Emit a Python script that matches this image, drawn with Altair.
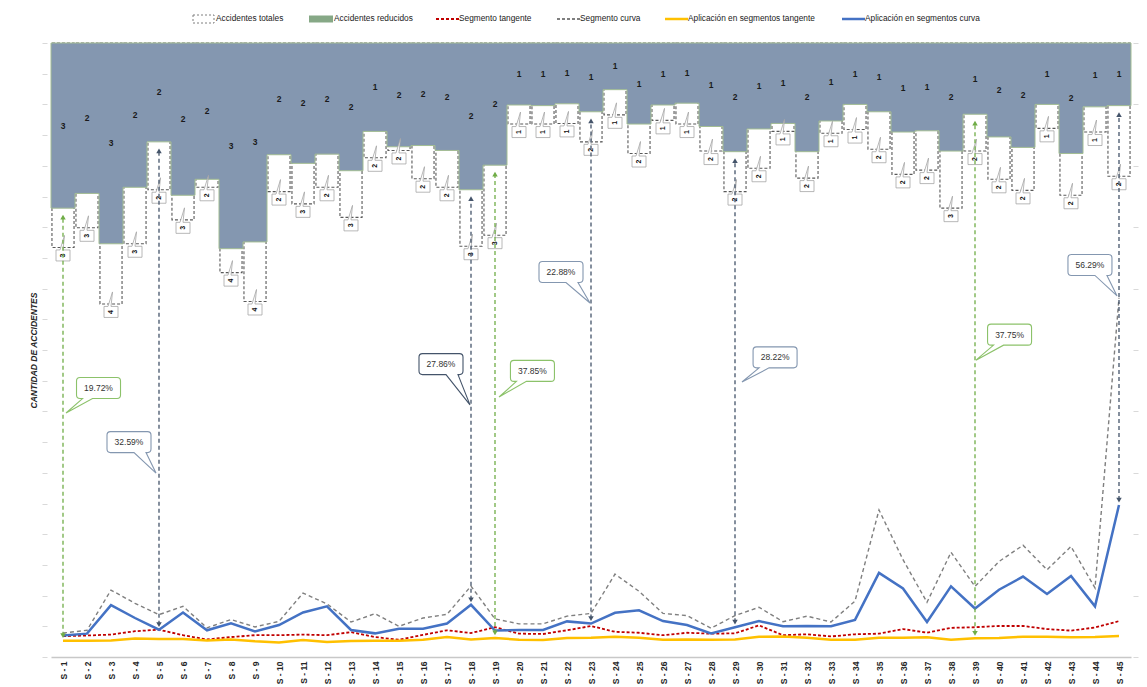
import altair as alt
import pandas as pd

# ------------------------------------------------------------------ data
segmentos = list(range(1, 46))

# accidentes (bars hanging from the top, secondary reversed axis)
reducidos = [2.69, 2.45, 3.27, 2.35, 1.61, 2.48, 2.22, 3.35, 3.24, 1.82,
             1.96, 1.81, 2.08, 1.44, 1.69, 1.67, 1.75, 2.39, 1.99, 1.01,
             1.02, 0.99, 1.12, 0.76, 1.32, 1.01, 0.98, 1.36, 1.77, 1.40,
             1.31, 1.77, 1.27, 1.00, 1.12, 1.45, 1.43, 1.76, 1.16, 1.53,
             1.70, 1.00, 1.80, 1.04, 1.02]
totales = [3.33, 3.01, 4.25, 3.27, 2.39, 2.88, 2.35, 3.74, 4.21, 2.42,
           2.62, 2.35, 2.84, 1.87, 1.75, 2.21, 2.35, 3.31, 3.13, 1.32,
           1.32, 1.31, 1.61, 1.17, 1.80, 1.26, 1.32, 1.76, 2.42, 2.04,
           1.44, 2.20, 1.47, 1.41, 1.73, 2.14, 2.07, 2.69, 1.76, 2.22,
           2.40, 1.39, 2.48, 1.45, 2.17]

# lines (primary axis)
seg_tangente = [0.68, 0.70, 0.73, 0.84, 0.89, 0.71, 0.57, 0.65, 0.71, 0.71,
                0.73, 0.71, 0.81, 0.65, 0.56, 0.72, 0.87, 0.78, 0.97, 0.76,
                0.75, 0.87, 1.01, 0.82, 0.79, 0.71, 0.79, 0.76, 0.77, 1.03,
                0.71, 0.74, 0.67, 0.74, 0.76, 0.91, 0.79, 0.95, 0.97, 1.01,
                1.01, 0.91, 0.86, 0.96, 1.17]
seg_curva = [0.78, 0.87, 2.18, 1.75, 1.38, 1.65, 0.95, 1.22, 0.98, 1.16,
             2.08, 1.73, 1.14, 1.41, 1.00, 1.27, 1.39, 2.31, 1.24, 1.08,
             1.08, 1.33, 1.42, 2.70, 2.14, 1.42, 1.35, 0.94, 1.35, 1.62,
             1.15, 1.33, 1.14, 1.82, 4.79, 3.17, 1.78, 3.41, 2.30, 3.11,
             3.64, 2.84, 3.60, 2.25, 11.70]
apl_tangente = [0.53, 0.53, 0.54, 0.60, 0.59, 0.59, 0.54, 0.57, 0.51, 0.47,
                0.55, 0.49, 0.52, 0.53, 0.53, 0.56, 0.65, 0.57, 0.62, 0.56,
                0.55, 0.62, 0.63, 0.66, 0.63, 0.56, 0.57, 0.56, 0.57, 0.66,
                0.67, 0.63, 0.56, 0.56, 0.63, 0.63, 0.64, 0.56, 0.61, 0.62,
                0.66, 0.66, 0.64, 0.65, 0.68]
apl_curva = [0.70, 0.76, 1.69, 1.27, 0.89, 1.45, 0.87, 1.10, 0.83, 1.04,
             1.45, 1.65, 0.88, 0.77, 0.92, 0.92, 1.09, 1.70, 0.86, 0.88,
             0.88, 1.16, 1.09, 1.44, 1.52, 1.17, 1.04, 0.77, 0.97, 1.17,
             1.00, 1.01, 1.00, 1.21, 2.74, 2.23, 1.14, 2.30, 1.58, 2.19,
             2.62, 2.05, 2.64, 1.65, 4.95]

# arrows
flecha_seg = [1, 5, 18, 19, 23, 29, 39, 45]
flecha_tipo = ["verde", "azul", "azul", "verde", "azul", "azul", "verde", "azul"]

# callouts
nota_txt = ["19.72%", "32.59%", "27.86%", "37.85%", "22.88%", "28.22%", "37.75%", "56.29%"]
nota_tipo = ["verde", "azul", "oscuro", "verde", "azul", "azul", "verde", "azul"]
nota_punta_x = [1.125, 4.875, 17.96, 19.17, 22.96, 29.29, 39.04, 44.92]
nota_punta_y = [7.95, 5.99, 8.21, 8.47, 11.53, 8.96, 9.67, 11.76]
nota_caja_x = [2.48, 3.75, 16.75, 20.56, 21.75, 30.67, 40.44, 43.79]
nota_caja_y = [8.76, 7.00, 9.54, 9.32, 12.54, 9.76, 10.50, 12.77]

NAMES = ["Accidentes totales", "Accidentes reducidos", "Segmento tangente",
         "Segmento curva", "Aplicación en segmentos tangente",
         "Aplicación en segmentos curva"]

# ------------------------------------------------------------------ style
FONT = "Liberation Sans, Arial, sans-serif"
W, H = 1080, 614
LOW_MAX, TOP_MAX = 20, 10
PX_X = W / len(segmentos)
PX_Y = H / LOW_MAX
SLATE = "#8497b0"
EDGE = "#a3bd93"
COL_TIPO = {"verde": "#70ad47", "azul": "#44546a"}
NOTA_COL = {"verde": "#8cc26a", "azul": "#8497b0", "oscuro": "#44546a"}
LINE_STYLE = {
    "Segmento tangente": dict(color="#c00000", strokeDash=[3, 2], strokeWidth=1.8),
    "Segmento curva": dict(color="#7f7f7f", strokeDash=[4, 3], strokeWidth=1.4),
    "Aplicación en segmentos tangente": dict(color="#ffc000", strokeWidth=2.5),
    "Aplicación en segmentos curva": dict(color="#4472c4", strokeWidth=2.5),
}
BOX_PATH = "M-7,-5.5 L-3,-5.5 L1.5,-20 L0,-5.5 L7,-5.5 L7,5.5 L-7,5.5 Z"
# legend layout (pixels relative to the plot's top-left corner)
LEG_ICON_X = [142, 258, 385, 506, 614, 791]
LEG_Y = -24

xscale = alt.Scale(domain=[0.5, 45.5], nice=False, zero=False)
top_scale = alt.Scale(domain=[0, TOP_MAX], reverse=True, nice=False)
low_scale = alt.Scale(domain=[0, LOW_MAX], nice=False)

xaxis = alt.Axis(values=segmentos, labelExpr="'S - ' + datum.value", labelAngle=270,
                 labelFont=FONT, labelFontSize=8.5, labelFontWeight="bold",
                 labelColor="#262626", ticks=False, domainColor="#c8c8c8",
                 domainWidth=1.5, labelPadding=4, grid=False, title=None,
                 labelOverlap=False, labelFlush=False)
raxis = alt.Axis(orient="right", labels=False, tickSize=5, tickColor="#d9d9d9",
                 domain=False, grid=False, title=None,
                 values=list(range(0, TOP_MAX + 1)), offset=2)
laxis = alt.Axis(orient="left", labels=False, tickSize=5, tickColor="#d9d9d9",
                 domain=False, grid=False, title="CANTIDAD DE ACCIDENTES",
                 titleFont=FONT, titleFontSize=8.5, titleFontWeight="bold",
                 titleFontStyle="italic", titleColor="#262626", titlePadding=3,
                 offset=4, values=list(range(0, LOW_MAX + 1)))


def X(f):
    return alt.X(f, type="quantitative", scale=xscale, axis=xaxis)


def YT(f):
    return alt.Y(f, type="quantitative", scale=top_scale, axis=raxis)


def YL(f):
    return alt.Y(f, type="quantitative", scale=low_scale, axis=laxis)


# ------------------------------------------------------------------ tables
df_seg = pd.DataFrame({"col": segmentos, "red": reducidos, "tot": totales})
df_area = pd.DataFrame({"xe": [c - 0.5 for c in segmentos] + [segmentos[-1] + 0.5],
                        "d": reducidos + [reducidos[-1]]})

series = [("Segmento tangente", seg_tangente), ("Segmento curva", seg_curva),
          ("Aplicación en segmentos tangente", apl_tangente),
          ("Aplicación en segmentos curva", apl_curva)]

rows = []
for c, t in zip(flecha_seg, flecha_tipo):
    base = apl_tangente[c - 1] if t == "verde" else apl_curva[c - 1]
    top_low = LOW_MAX * (1 - reducidos[c - 1] / TOP_MAX)
    rows.append({"col": c, "tipo": t,
                 "y_bot": base + 5 / PX_Y, "y_top": top_low - 9 / PX_Y})
df_arr = pd.DataFrame(rows)


def callout_path(dx, dy, w=22, h=10.5, r=3.5):
    b1, b2 = (-16, -6) if dx < 0 else (5, 17)
    return (f"M{-w + r},{-h} L{w - r},{-h} Q{w},{-h} {w},{-h + r} L{w},{h - r} "
            f"Q{w},{h} {w - r},{h} L{b2},{h} L{dx:.1f},{dy:.1f} L{b1},{h} "
            f"L{-w + r},{h} Q{-w},{h} {-w},{h - r} L{-w},{-h + r} Q{-w},{-h} {-w + r},{-h} Z")


df_call = pd.DataFrame({"txt": nota_txt, "tipo": nota_tipo, "bx": nota_caja_x,
                        "by": nota_caja_y, "px": nota_punta_x, "py": nota_punta_y})

# ------------------------------------------------------------------ top group
tot_rect = alt.Chart(df_seg).transform_calculate(
    x0="datum.col - 0.46", x1="datum.col + 0.46"
).mark_rect(fill="#ffffff", fillOpacity=0, stroke="#595959", strokeDash=[3, 2],
            strokeWidth=1.1).encode(x=X("x0"), x2="x1:Q", y=YT("tot"), y2=alt.value(0))

area = alt.Chart(df_area).mark_area(
    interpolate="step-after", color=SLATE, stroke=EDGE, strokeWidth=1, opacity=1
).encode(x=X("xe"), y=YT("d"), y2=alt.value(0))

red_txt = alt.Chart(df_seg).transform_calculate(mid="datum.red / 2").mark_text(
    font=FONT, fontSize=8.5, fontWeight="bold", color="#1a1a1a"
).encode(x=X("col"), y=YT("mid"), text=alt.Text("red:Q", format=".0f"))

box = alt.Chart(df_seg).mark_point(
    shape=BOX_PATH, size=4, filled=True, color="#ffffff", stroke="#a6a6a6",
    strokeWidth=0.8, opacity=1, yOffset=8
).encode(x=X("col"), y=YT("tot"))

box_txt = alt.Chart(df_seg).mark_text(
    font=FONT, fontSize=7, fontWeight="bold", color="#111111", angle=270, yOffset=8
).encode(x=X("col"), y=YT("tot"), text=alt.Text("tot:Q", format=".0f"))

top = alt.layer(tot_rect, area, red_txt, box, box_txt)

# ------------------------------------------------------------------ bottom group
layers = []
for name, arr in series:
    df_l = pd.DataFrame({"col": segmentos, "valor": arr})
    layers.append(alt.Chart(df_l).mark_line(**LINE_STYLE[name])
                  .encode(x=X("col"), y=YL("valor")))

for tipo, colr in COL_TIPO.items():
    sub = df_arr[df_arr["tipo"] == tipo]
    layers.append(alt.Chart(sub).mark_rule(strokeDash=[4, 3], strokeWidth=1.3, color=colr)
                  .encode(x=X("col"), y=YL("y_bot"), y2="y_top:Q"))
    layers.append(alt.Chart(sub).mark_point(shape="triangle-up", filled=True, size=30,
                                            opacity=1, color=colr)
                  .encode(x=X("col"), y=YL("y_top")))
    layers.append(alt.Chart(sub).mark_point(shape="triangle-down", filled=True, size=30,
                                            opacity=1, color=colr)
                  .encode(x=X("col"), y=YL("y_bot")))

for i in range(len(df_call)):
    r = df_call.iloc[i]
    path = callout_path((r.px - r.bx) * PX_X, (r.by - r.py) * PX_Y)
    layers.append(alt.Chart(df_call.iloc[[i]]).mark_point(
        shape=path, filled=True, color="#ffffff", stroke=NOTA_COL[r.tipo],
        size=4, strokeWidth=1.1, opacity=1).encode(x=X("bx"), y=YL("by")))

layers.append(alt.Chart(df_call).mark_text(font=FONT, fontSize=8.5, color="#333333").encode(
    x=X("bx"), y=YL("by"), text="txt:N"))

# ------------------------------------------------------------------ legend (drawn above plot)
leg_df = pd.DataFrame({"n": [0]})
ix = LEG_ICON_X
leg_layers = [
    alt.Chart(leg_df).mark_rect(fill="#ffffff", stroke="#7f7f7f", strokeDash=[2, 2],
                                strokeWidth=1).encode(
        x=alt.value(ix[0]), x2=alt.value(ix[0] + 21),
        y=alt.value(LEG_Y - 4), y2=alt.value(LEG_Y + 4)),
    alt.Chart(leg_df).mark_rect(fill="#86a886").encode(
        x=alt.value(ix[1]), x2=alt.value(ix[1] + 24),
        y=alt.value(LEG_Y - 3.5), y2=alt.value(LEG_Y + 3.5)),
]
for k, name in enumerate(NAMES[2:], start=2):
    st = LINE_STYLE[name]
    kw = dict(color=st["color"], strokeWidth=2 if "strokeDash" in st else 2.5)
    if "strokeDash" in st:
        kw["strokeDash"] = [3, 2]
    leg_layers.append(alt.Chart(leg_df).mark_rule(**kw).encode(
        x=alt.value(ix[k]), x2=alt.value(ix[k] + 23), y=alt.value(LEG_Y)))
for k, name in enumerate(NAMES):
    gap = 23 if k != 1 else 25
    leg_layers.append(alt.Chart(leg_df).mark_text(
        font=FONT, fontSize=8.3, color="#1a1a1a", align="left", baseline="middle"
    ).encode(x=alt.value(ix[k] + gap), y=alt.value(LEG_Y), text=alt.value(name)))

bottom = alt.layer(*layers, *leg_layers)

chart = alt.layer(top, bottom).resolve_scale(y="independent").properties(
    width=W, height=H, autosize=alt.AutoSizeParams(type="none"),
    padding={"left": 43, "top": 35, "right": 8, "bottom": 30}, background="white"
).configure_view(stroke=None)

chart.save("out.html", embed_options={"renderer": "svg", "actions": False})
